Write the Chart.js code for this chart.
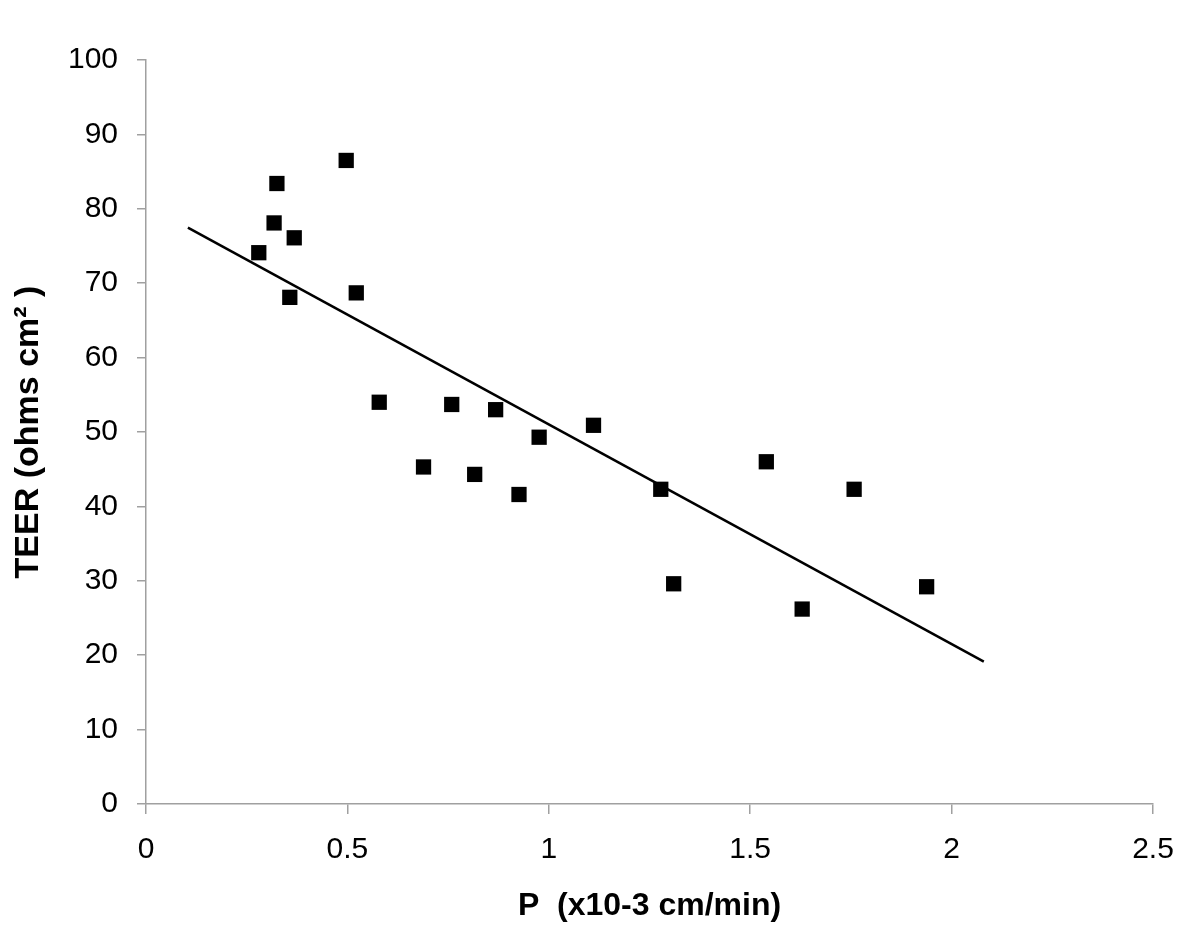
<!DOCTYPE html>
<html>
<head>
<meta charset="utf-8">
<script src="https://cdn.jsdelivr.net/npm/chart.js@4/dist/chart.umd.min.js"></script>
<style>
  html, body { margin: 0; padding: 0; background: #fff; }
  #wrap { width: 1200px; height: 936px; }
</style>
</head>
<body>
<div id="wrap"><canvas id="chart" width="1200" height="936"></canvas></div>
<script>
// P values (x10-3 cm/min)
const pValues = [0.280, 0.318, 0.325, 0.368, 0.357, 0.497, 0.522, 0.579, 0.689, 0.759, 0.816,
                 0.868, 0.926, 0.976, 1.111, 1.278, 1.310, 1.540, 1.629, 1.758, 1.938];
// TEER values (ohms cm2)
const teerValues = [74.1, 78.1, 83.4, 76.1, 68.1, 86.5, 68.7, 54.0, 45.3, 53.7, 44.3,
                    53.0, 41.6, 49.3, 50.9, 42.3, 29.6, 46.0, 26.2, 42.3, 29.2];
// trend line end points
const trendX = [0.104, 2.08];
const trendY = [77.46, 19.13];

const xTitle = "P  (x10-3 cm/min)";
const yTitle = "TEER (ohms cm\u00B2 )";

const FONT = "'Liberation Sans', Arial, sans-serif";
const axisGray = "#a0a0a0";

const points = pValues.map((p, i) => ({ x: p, y: teerValues[i] }));
const trend = trendX.map((x, i) => ({ x, y: trendY[i] }));

new Chart(document.getElementById("chart"), {
    type: "scatter",
    data: {
        datasets: [
            {
                data: points,
                pointStyle: "rect",
                pointRadius: 10.8,
                backgroundColor: "#000",
                borderWidth: 0
            },
            {
                type: "line",
                data: trend,
                borderColor: "#000",
                borderWidth: 2.5,
                pointRadius: 0,
                fill: false
            }
        ]
    },
    options: {
        responsive: false,
        animation: false,
        layout: { padding: { top: 60, right: 47, left: 0, bottom: 0 } },
        plugins: { legend: { display: false }, tooltip: { enabled: false } },
        scales: {
            x: {
                type: "linear",
                min: 0, max: 2.5,
                ticks: { stepSize: 0.5, color: "#000", font: { family: FONT, size: 30 }, padding: 18,
                         callback: v => String(v) },
                grid: { drawOnChartArea: false, drawTicks: true, tickLength: 10, color: axisGray, lineWidth: 1.5 },
                border: { color: axisGray, width: 1.5 },
                title: { display: true, text: xTitle, color: "#000", font: { family: FONT, size: 32, weight: "bold" }, padding: { top: 0, bottom: 11 } },
                afterFit: s => { s.height = 132; }
            },
            y: {
                type: "linear",
                min: 0, max: 100,
                ticks: { stepSize: 10, color: "#000", font: { family: FONT, size: 30 }, padding: 19,
                         callback: v => String(v) },
                grid: { drawOnChartArea: false, drawTicks: true, tickLength: 9, color: axisGray, lineWidth: 1.5 },
                border: { color: axisGray, width: 1.5 },
                title: { display: true, text: yTitle, color: "#000", font: { family: FONT, size: 34, weight: "bold" }, padding: { top: 8, bottom: 0 } },
                afterFit: s => { s.width = 146; }
            }
        }
    }
});
</script>
</body>
</html>
